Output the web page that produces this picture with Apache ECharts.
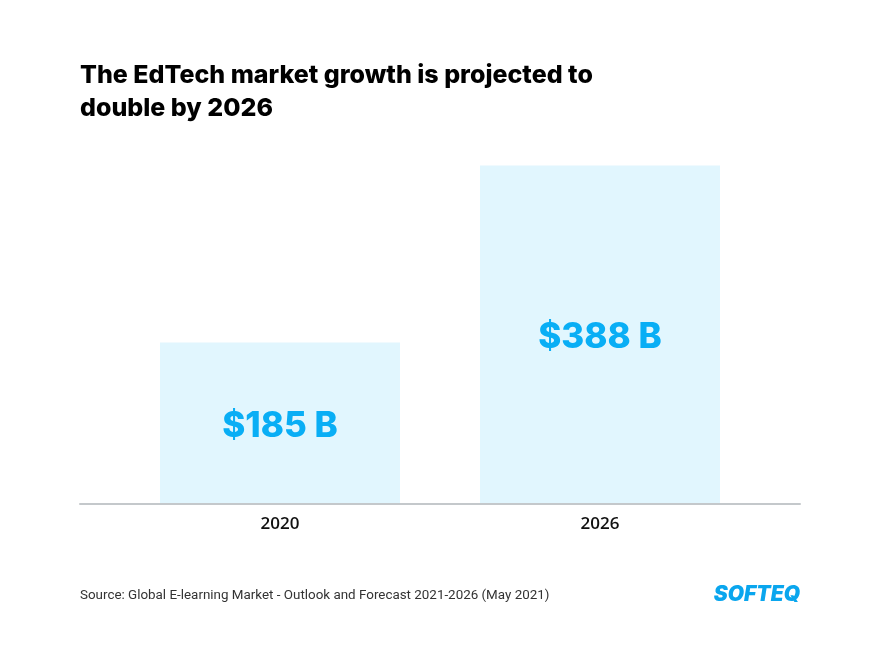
<!DOCTYPE html>
<html><head><meta charset="utf-8">
<script src="https://cdn.jsdelivr.net/npm/echarts@6/dist/echarts.min.js"></script>
<style>html,body{margin:0;padding:0;background:#fff}#c{width:880px;height:649px}</style>
</head><body><div id="c"></div>
<script>
const categories = ['2020', '2026'];
const marketValues = [185, 388];
const valueLabels = ['$185 B', '$388 B'];

const chart = echarts.init(document.getElementById('c'));
chart.setOption({
  backgroundColor: '#ffffff',
  animation: false,
  title: [
    { text: 'The EdTech market growth is projected to\ndouble by 2026', left: 75, top: 54,
      textStyle: { fontFamily: 'Inter', fontWeight: 800, fontSize: 25, color: '#000', lineHeight: 33 } },
    { text: 'Source: Global E-learning Market - Outlook and Forecast 2021-2026 (May 2021)', left: 75, top: 584,
      textStyle: { fontFamily: 'Roboto', fontWeight: 400, fontSize: 13.4, color: '#333' } },
    { text: 'SOFTEQ', right: 75, top: 579,
      textStyle: { fontFamily: 'Inter', fontWeight: 900, fontStyle: 'italic', fontSize: 21, color: '#0aa6ee' } }
  ],
  grid: [
    { left: 120, right: 120, top: 155, bottom: 145 },
    { left: 80, right: 80, top: 155, bottom: 145 }
  ],
  xAxis: [
    { type: 'category', data: categories, gridIndex: 0,
      axisLine: { show: false }, axisTick: { show: false },
      axisLabel: { margin: 12, fontFamily: 'Open Sans', fontWeight: 600, fontSize: 17, color: '#111' } },
    { type: 'category', data: categories, gridIndex: 1, z: 5,
      axisLine: { show: true, lineStyle: { color: '#c4c8cb', width: 2 } },
      axisTick: { show: false }, axisLabel: { show: false } }
  ],
  yAxis: [
    { type: 'value', min: 0, max: 400, gridIndex: 0, show: false, splitLine: { show: false } },
    { type: 'value', min: 0, max: 400, gridIndex: 1, show: false, splitLine: { show: false } }
  ],
  series: [{
    type: 'bar', xAxisIndex: 0, yAxisIndex: 0,
    data: marketValues, barWidth: 240,
    itemStyle: { color: '#e1f6fe' },
    label: { show: true, position: 'inside', formatter: p => valueLabels[p.dataIndex],
      fontFamily: 'Inter', fontWeight: 800, fontSize: 35, color: '#09aef5', offset: [0, 3] }
  }]
});
</script></body></html>
